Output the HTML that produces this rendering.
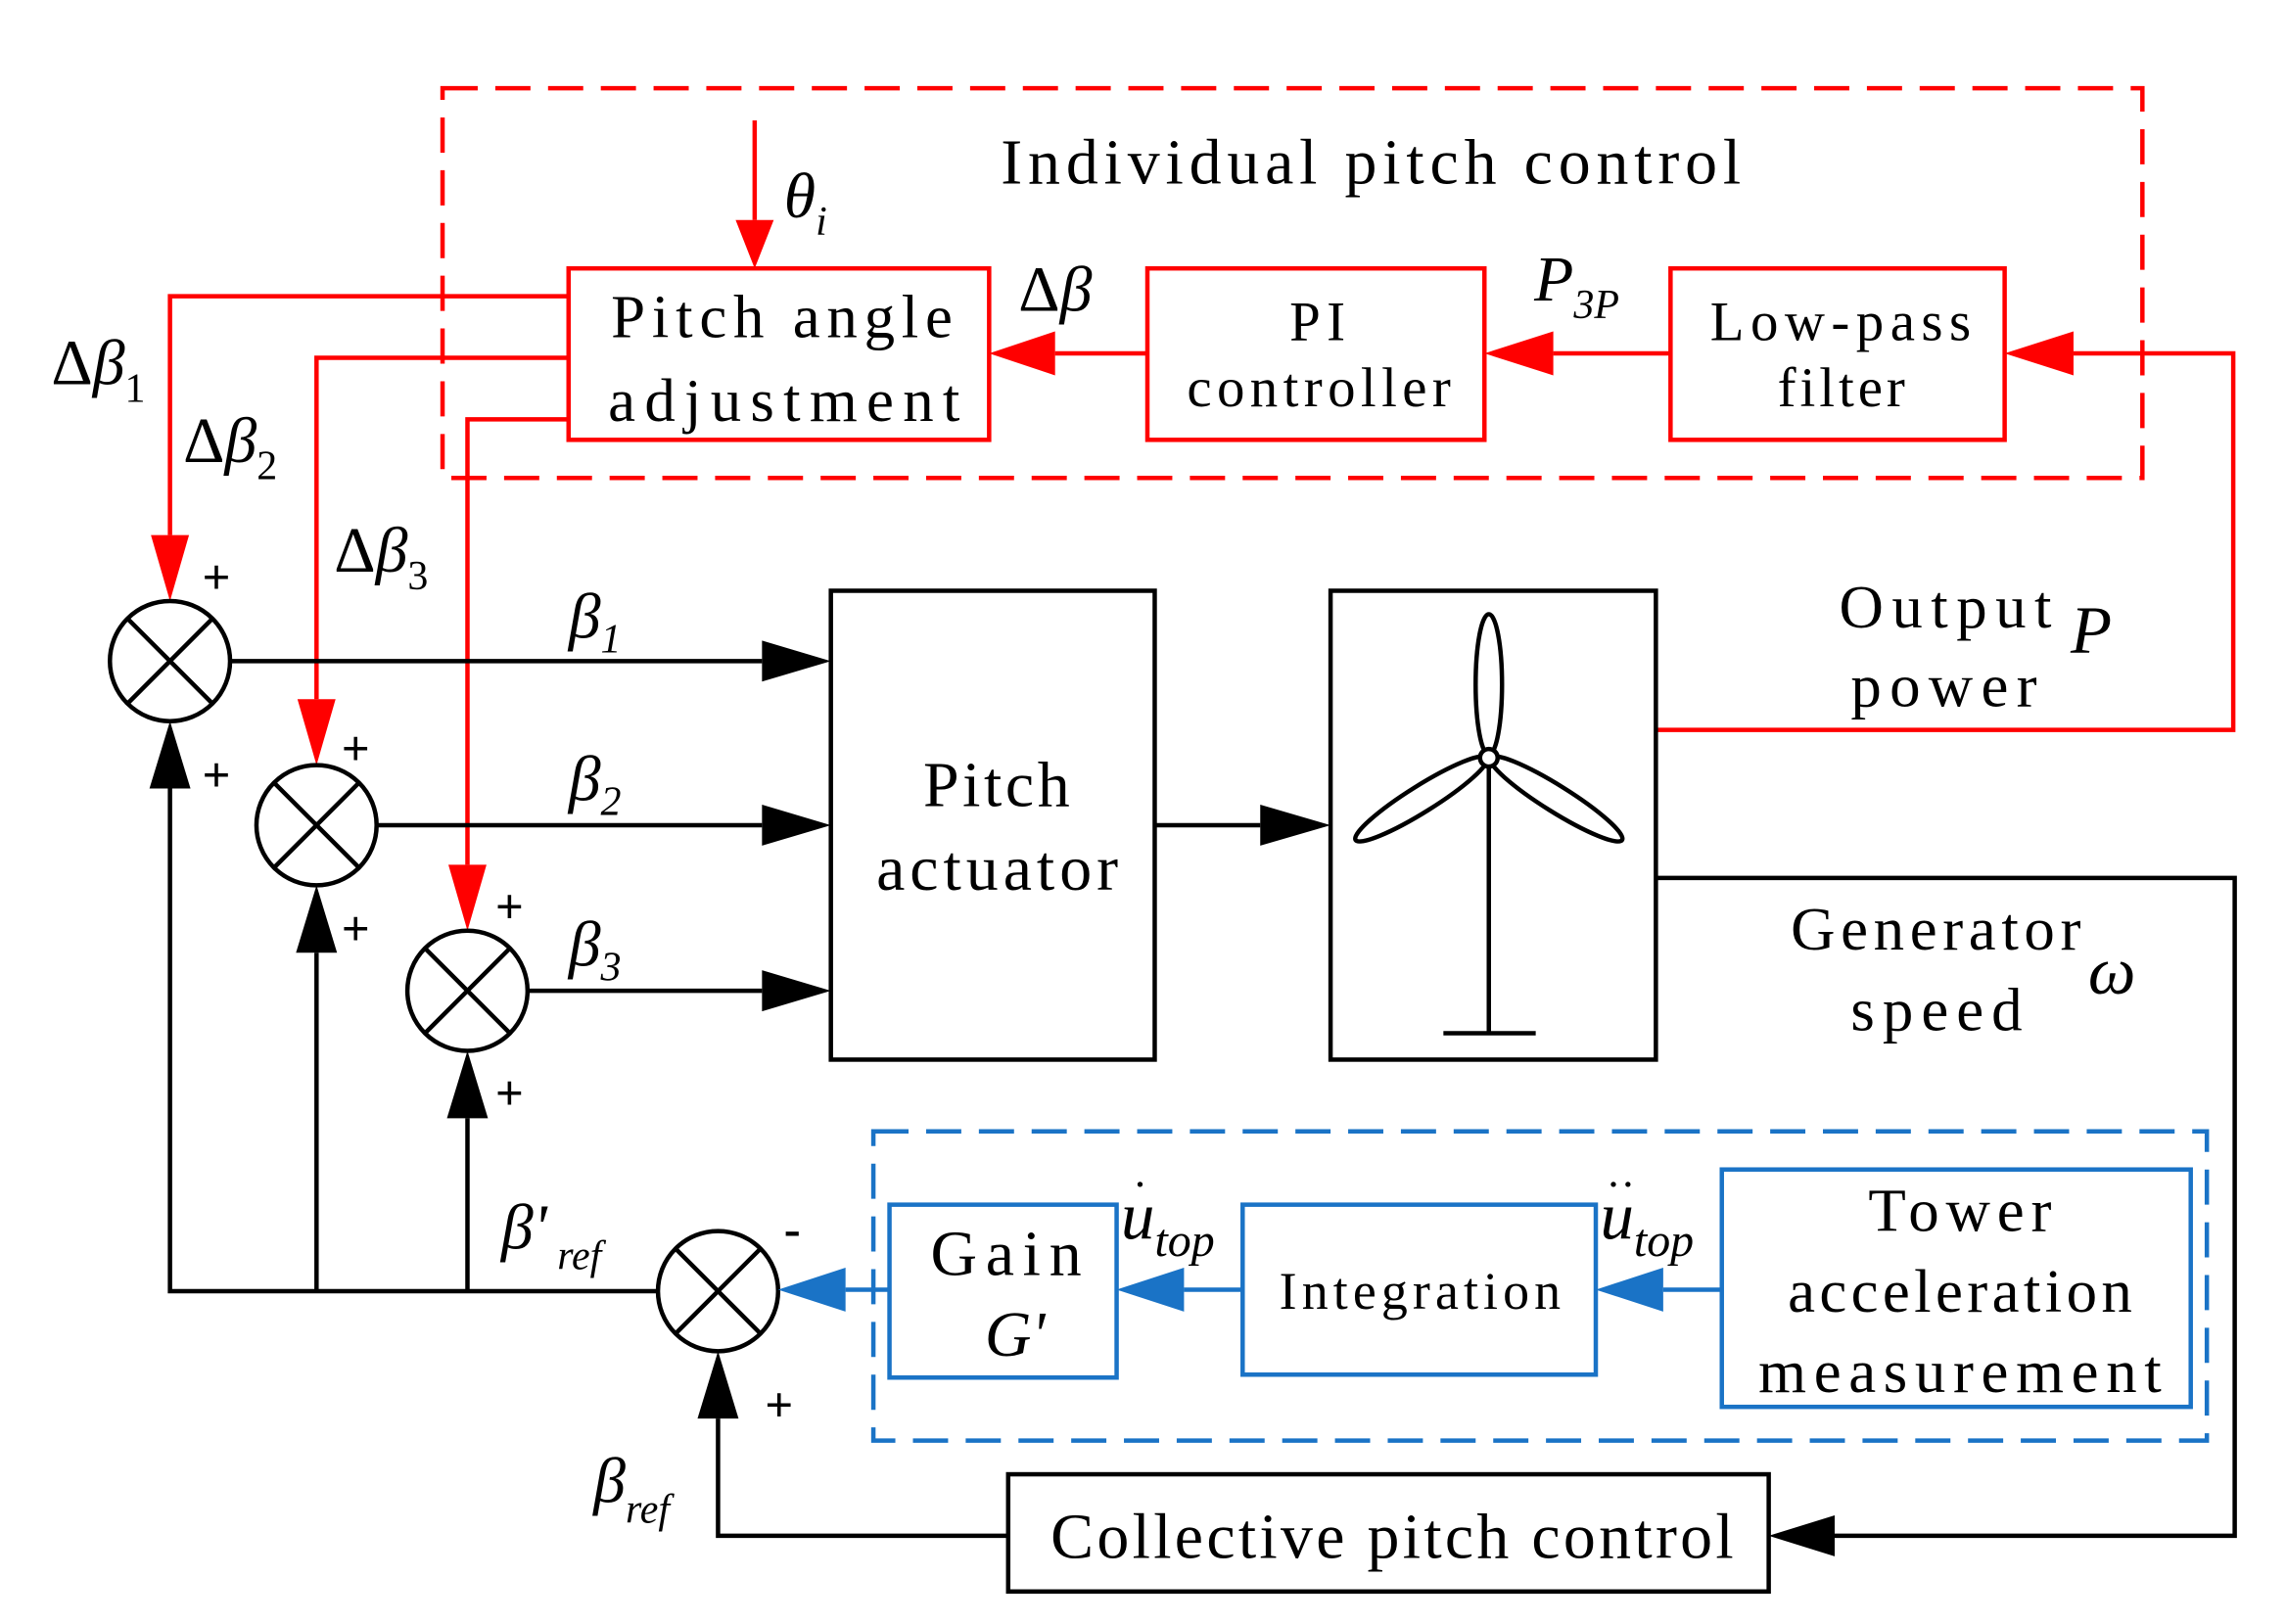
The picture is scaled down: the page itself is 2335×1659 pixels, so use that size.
<!DOCTYPE html>
<html><head><meta charset="utf-8"><style>
html,body{margin:0;padding:0;background:#fff;}
svg{display:block;}
text{font-family:"Liberation Serif",serif;}
</style></head><body>
<svg width="2335" height="1659" viewBox="0 0 1560 1108" xmlns="http://www.w3.org/2000/svg">
<rect x="0" y="0" width="1560" height="1108" fill="#fff"/>
<rect x="302" y="60" width="1160" height="266" fill="none" stroke="#f00" stroke-width="3" stroke-dasharray="24,12"/>
<text x="683" y="125" font-size="44" textLength="505" lengthAdjust="spacing">Individual pitch control</text>
<g stroke="#f00" stroke-width="3" fill="none">
<rect x="388" y="183" width="287" height="117"/>
<rect x="783" y="183" width="230" height="117"/>
<rect x="1140" y="183" width="228" height="117"/>
<line x1="515" y1="82" x2="515" y2="150"/>
<line x1="783" y1="241" x2="720" y2="241"/>
<line x1="1140" y1="241" x2="1060" y2="241"/>
<polyline points="1130,498 1524,498 1524,241 1415,241"/>
<polyline points="388,202 116,202 116,365"/>
<polyline points="388,244 216,244 216,477"/>
<polyline points="388,286 319,286 319,590"/>
</g>
<g fill="#f00">
<path d="M502,150L528,150L515,183z"/>
<path d="M720,226L720,256L675,241z"/>
<path d="M1060,226L1060,256L1013,241z"/>
<path d="M1415,226L1415,256L1368,241z"/>
<path d="M103,365L129,365L116,410z"/>
<path d="M203,477L229,477L216,522z"/>
<path d="M306,590L332,590L319,635z"/>
</g>
<text x="417" y="230" font-size="42" textLength="233" lengthAdjust="spacing">Pitch angle</text>
<text x="415" y="287" font-size="42" textLength="240" lengthAdjust="spacing">adjustment</text>
<text x="880" y="232" font-size="38" textLength="38" lengthAdjust="spacing">PI</text>
<text x="810" y="277" font-size="38" textLength="180" lengthAdjust="spacing">controller</text>
<text x="1167" y="232" font-size="38" textLength="178" lengthAdjust="spacing">Low-pass</text>
<text x="1213" y="277" font-size="38" textLength="87" lengthAdjust="spacing">filter</text>
<text x="535" y="148" font-size="44" font-style="italic">θ<tspan font-size="28" dy="12">i</tspan></text>
<text x="695" y="212" font-size="44" font-style="italic"><tspan font-style="normal">Δ</tspan>β</text>
<text x="1047" y="205" font-size="44" font-style="italic">P<tspan font-size="28" dy="12">3P</tspan></text>
<text x="35" y="262" font-size="44" font-style="italic"><tspan font-style="normal">Δ</tspan>β<tspan font-size="28" dy="12" font-style="normal">1</tspan></text>
<text x="125" y="315" font-size="44" font-style="italic"><tspan font-style="normal">Δ</tspan>β<tspan font-size="28" dy="12" font-style="normal">2</tspan></text>
<text x="228" y="390" font-size="44" font-style="italic"><tspan font-style="normal">Δ</tspan>β<tspan font-size="28" dy="12" font-style="normal">3</tspan></text>
<g stroke="#000" stroke-width="3" fill="none">
<circle cx="116" cy="451" r="41"/><line x1="87" y1="422" x2="145" y2="480"/><line x1="145" y1="422" x2="87" y2="480"/>
<circle cx="216" cy="563" r="41"/><line x1="187" y1="534" x2="245" y2="592"/><line x1="245" y1="534" x2="187" y2="592"/>
<circle cx="319" cy="676" r="41"/><line x1="290" y1="647" x2="348" y2="705"/><line x1="348" y1="647" x2="290" y2="705"/>
<circle cx="490" cy="881" r="41"/><line x1="461" y1="852" x2="519" y2="910"/><line x1="519" y1="852" x2="461" y2="910"/>
<line x1="157" y1="451" x2="520" y2="451"/>
<line x1="257" y1="563" x2="520" y2="563"/>
<line x1="360" y1="676" x2="520" y2="676"/>
<rect x="567" y="403" width="221" height="320"/>
<rect x="908" y="403" width="222" height="320"/>
<line x1="788" y1="563" x2="860" y2="563"/>
<polyline points="1130,599 1525,599 1525,1048 1252,1048"/>
<rect x="688" y="1006" width="519" height="80"/>
<polyline points="688,1048 490,1048 490,968"/>
<polyline points="449,881 116,881 116,538"/>
<line x1="216" y1="881" x2="216" y2="650"/>
<line x1="319" y1="881" x2="319" y2="763"/>
<line x1="1016" y1="517" x2="1016" y2="705"/>
<line x1="985" y1="705" x2="1048" y2="705"/>
<ellipse cx="1016" cy="467" rx="9" ry="48"/>
<ellipse cx="970" cy="545" rx="9" ry="53" transform="rotate(58 970 545)"/>
<ellipse cx="1062" cy="545" rx="9" ry="53" transform="rotate(-58 1062 545)"/>
<circle cx="1016" cy="517" r="6" fill="#fff"/>
</g>
<g fill="#000">
<path d="M520,437L520,465L567,451z"/>
<path d="M520,549L520,577L567,563z"/>
<path d="M520,662L520,690L567,676z"/>
<path d="M860,549L860,577L908,563z"/>
<path d="M1252,1034L1252,1062L1207,1048z"/>
<path d="M476,968L504,968L490,922z"/>
<path d="M102,538L130,538L116,492z"/>
<path d="M202,650L230,650L216,604z"/>
<path d="M305,763L333,763L319,717z"/>
</g>
<g font-family="Liberation Sans,sans-serif" font-weight="bold" font-size="34">
<text x="138" y="405">+</text><text x="138" y="540">+</text>
<text x="233" y="522">+</text><text x="233" y="645">+</text>
<text x="338" y="630">+</text><text x="338" y="757">+</text>
<text x="535" y="850">-</text><text x="522" y="970">+</text>
</g>
<text x="630" y="550" font-size="44" textLength="100" lengthAdjust="spacing">Pitch</text>
<text x="598" y="607" font-size="44" textLength="165" lengthAdjust="spacing">actuator</text>
<text x="1255" y="428" font-size="42" textLength="145" lengthAdjust="spacing">Output</text>
<text x="1263" y="482" font-size="42" textLength="127" lengthAdjust="spacing">power</text>
<text x="1413" y="445" font-size="46" font-style="italic">P</text>
<text x="1222" y="648" font-size="42" textLength="198" lengthAdjust="spacing">Generator</text>
<text x="1263" y="703" font-size="42" textLength="117" lengthAdjust="spacing">speed</text>
<text x="1425" y="678" font-size="46" font-style="italic">ω</text>
<text x="717" y="1063" font-size="44" textLength="466" lengthAdjust="spacing">Collective pitch control</text>
<text x="388" y="435" font-size="44" font-style="italic">β<tspan font-size="28" dy="10">1</tspan></text>
<text x="388" y="546" font-size="44" font-style="italic">β<tspan font-size="28" dy="10">2</tspan></text>
<text x="388" y="659" font-size="44" font-style="italic">β<tspan font-size="28" dy="10">3</tspan></text>
<text x="342" y="852" font-size="44" font-style="italic">β'<tspan font-size="28" dy="14"> ref</tspan></text>
<text x="405" y="1025" font-size="44" font-style="italic">β<tspan font-size="28" dy="14">ref</tspan></text>
<rect x="596" y="772" width="910" height="211" fill="none" stroke="#1a73c6" stroke-width="3" stroke-dasharray="24,12"/>
<g stroke="#1a73c6" stroke-width="3" fill="none">
<rect x="607" y="822" width="155" height="118"/>
<rect x="848" y="822" width="241" height="116"/>
<rect x="1175" y="798" width="320" height="162"/>
<line x1="1175" y1="880" x2="1135" y2="880"/>
<line x1="848" y1="880" x2="808" y2="880"/>
<line x1="607" y1="880" x2="577" y2="880"/>
</g>
<g fill="#1a73c6">
<path d="M1135,865L1135,895L1089,880z"/>
<path d="M808,865L808,895L762,880z"/>
<path d="M577,865L577,895L531,880z"/>
</g>
<text x="635" y="870" font-size="44" textLength="103" lengthAdjust="spacing">Gain</text>
<text x="672" y="925" font-size="44" font-style="italic">G'</text>
<text x="873" y="893" font-size="36" textLength="192" lengthAdjust="spacing">Integration</text>
<text x="1275" y="840" font-size="42" textLength="125" lengthAdjust="spacing">Tower</text>
<text x="1220" y="895" font-size="42" textLength="235" lengthAdjust="spacing">acceleration</text>
<text x="1200" y="950" font-size="42" textLength="275" lengthAdjust="spacing">measurement</text>
<text x="765" y="845" font-size="46" font-style="italic">u<tspan font-size="32" dy="12">top</tspan></text>
<text x="773" y="818" font-size="30">·</text>
<text x="1092" y="845" font-size="46" font-style="italic">u<tspan font-size="32" dy="12">top</tspan></text>
<text x="1096" y="818" font-size="30">··</text>
</svg>
</body></html>
